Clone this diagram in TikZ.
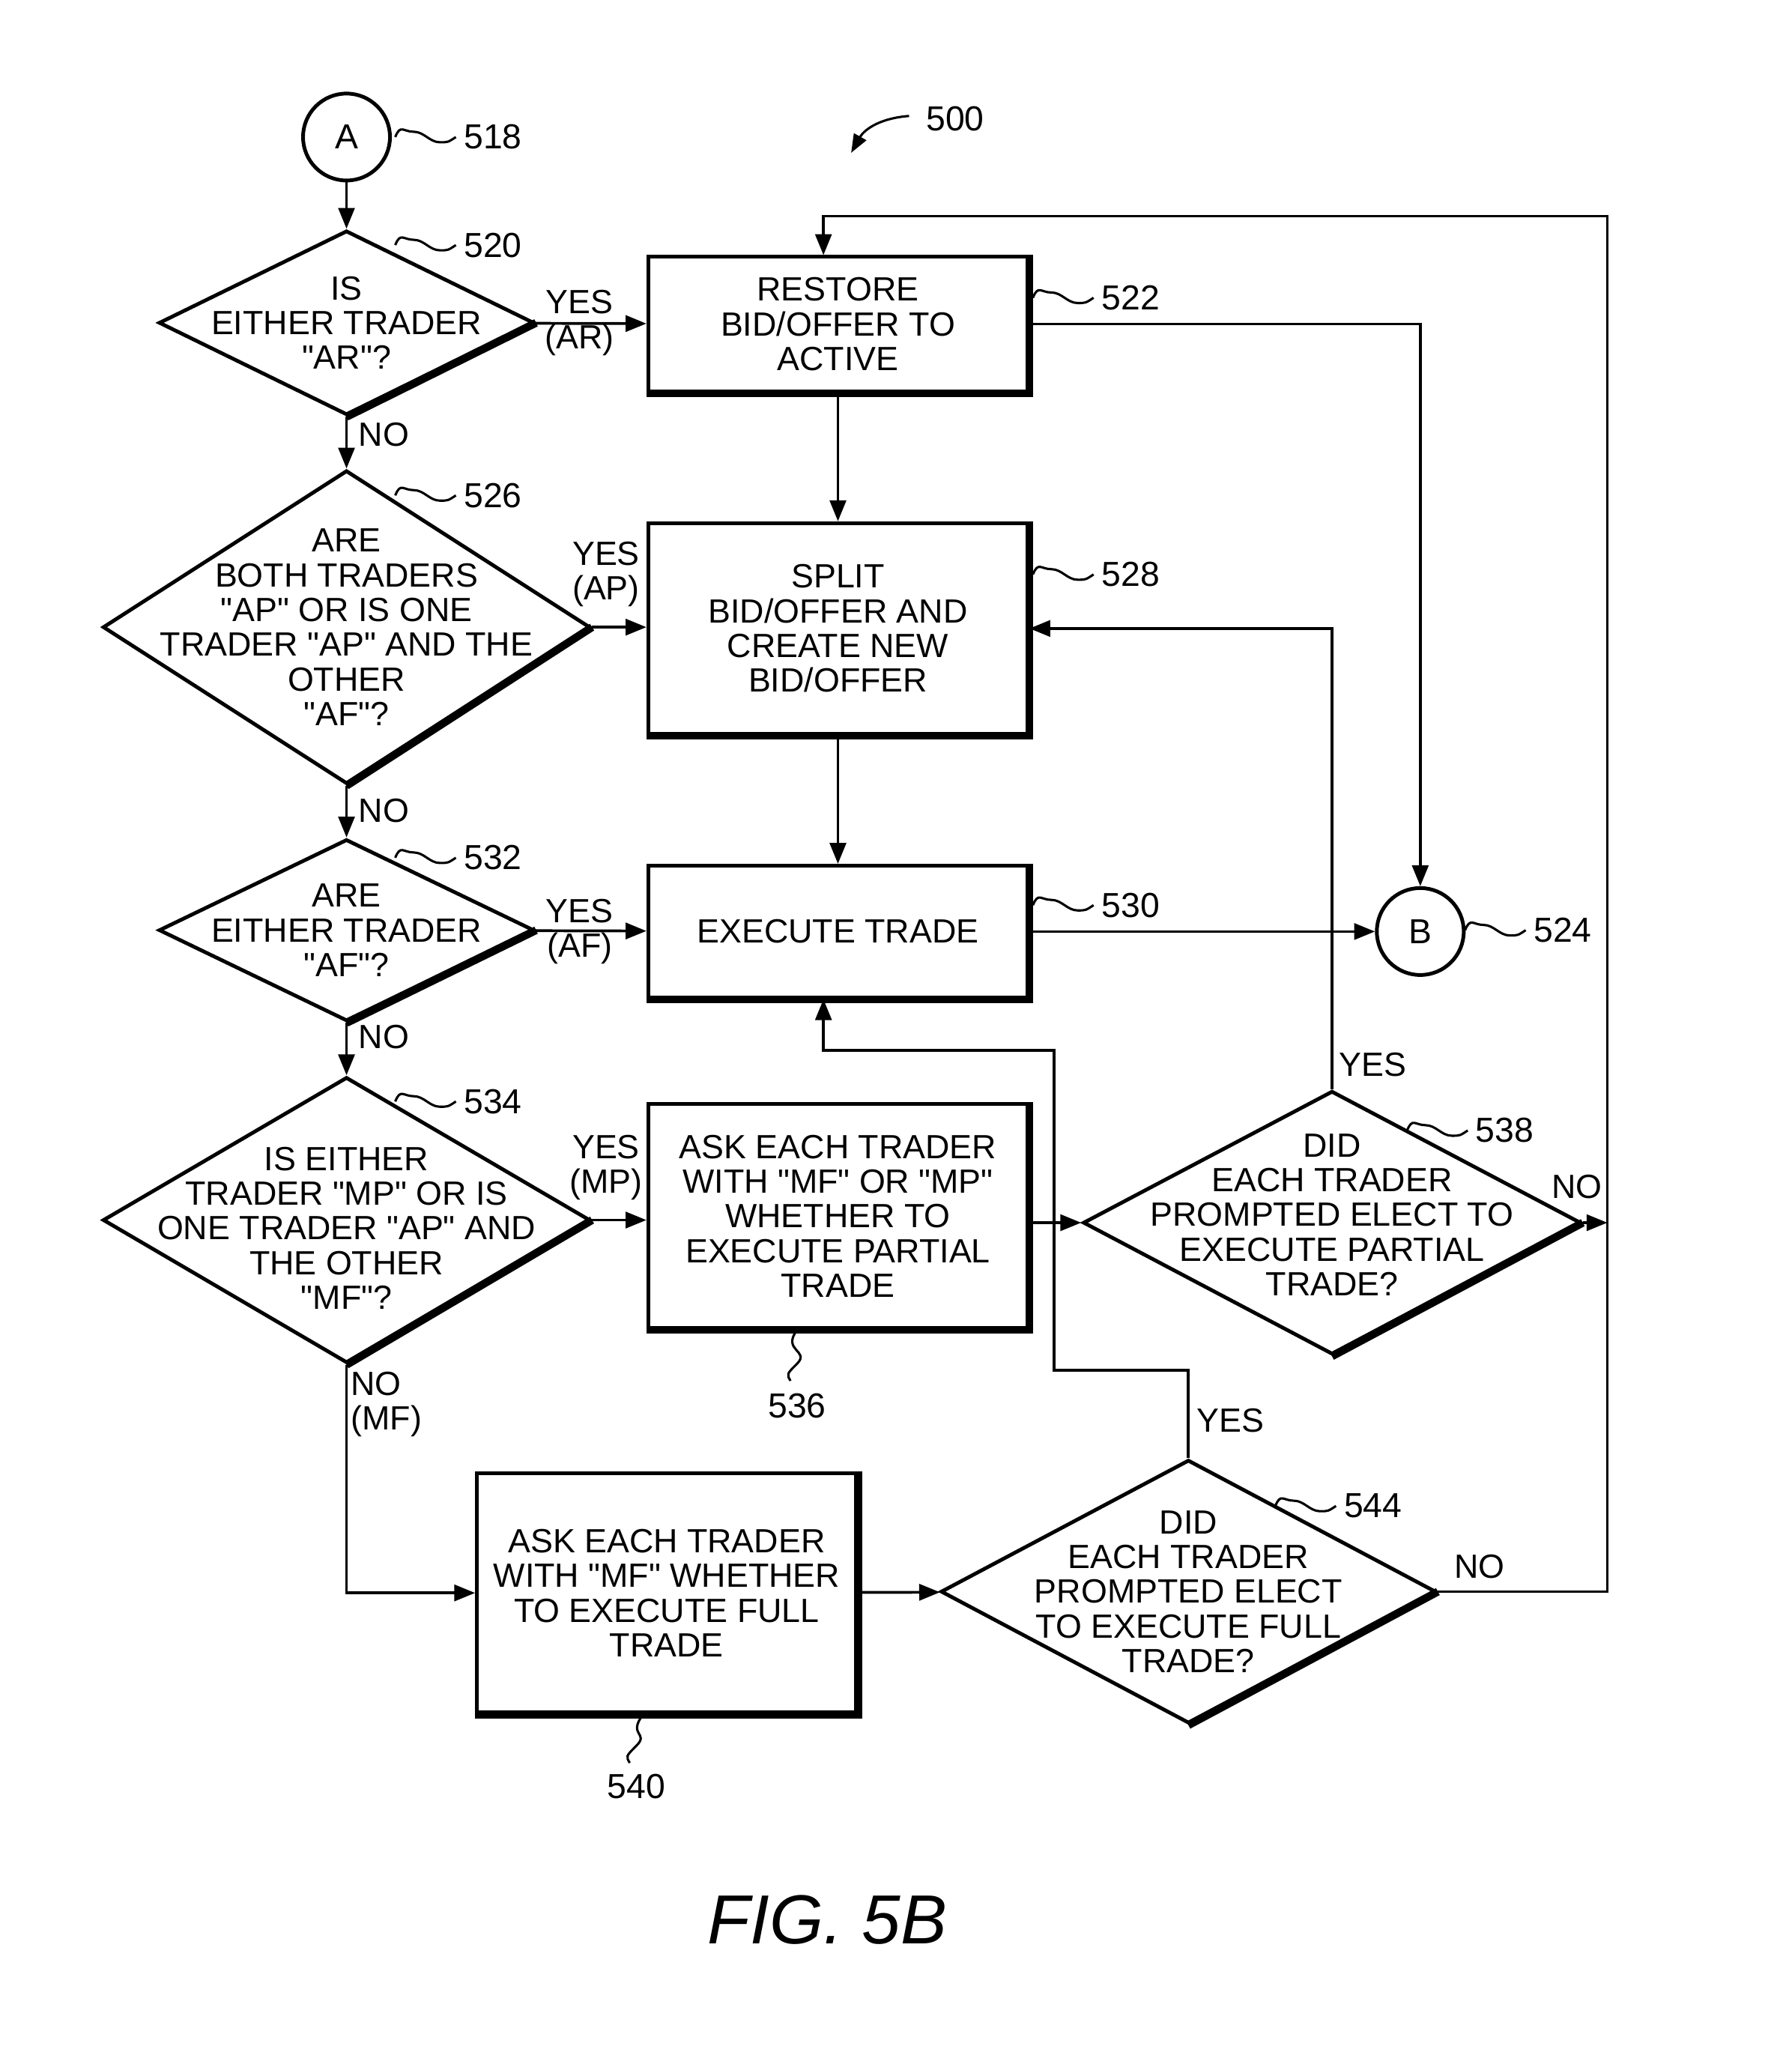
\documentclass[tikz,border=0pt]{standalone}
\usepackage{fontspec}
\setmainfont{Liberation Sans}
\usetikzlibrary{arrows.meta,shapes.geometric,positioning}

\tikzset{
  box/.style={draw,line width=1.6pt,rectangle,inner sep=0pt},
  dia/.style={draw,line width=1.6pt,diamond,inner sep=0pt},
  txt/.style={align=center,font=\fontsize{14.5}{15}\selectfont,inner sep=0pt},
  con/.style={circle,draw,line width=1.6pt,minimum size=1.32cm,font=\fontsize{15}{15}\selectfont},
  flow/.style={line width=1.2pt,-{Triangle[length=9pt,width=7pt]}},
  lbl/.style={font=\fontsize{14.5}{15}\selectfont,inner sep=0pt,align=center},
  ref/.style={font=\fontsize{15}{15}\selectfont,inner sep=0pt,anchor=west},
  shade/.style={line width=3.4pt},
}
\newcommand{\dq}{\textquotedbl}
\newcommand{\squig}[2]{\draw[line width=1pt] (#1) .. controls +(4,-10) and +(-8,0) .. ++(14,-4) .. controls +(8,0) and +(-8,0) .. ++(20,8) .. controls +(6,0) .. ++(12,-4) node[ref,right=3pt] {#2};}

\begin{document}
\begin{tikzpicture}[x=0.02cm,y=-0.02cm]
\useasboundingbox (0,0) rectangle (1360,1562);

% connectors A and B
\node[con] (A) at (263,104) {A};
\node[con] (B) at (1078,707) {B};

% decisions
\node[dia,minimum width=5.7cm,minimum height=2.8cm] (d520) at (263,245) {};
\node[dia,minimum width=7.4cm,minimum height=4.76cm] (d526) at (263,476) {};
\node[dia,minimum width=5.7cm,minimum height=2.76cm] (d532) at (263,706) {};
\node[dia,minimum width=7.4cm,minimum height=4.34cm] (d534) at (263,926) {};
\node[dia,minimum width=7.56cm,minimum height=4cm] (d538) at (1011,928) {};
\node[dia,minimum width=7.52cm,minimum height=4cm] (d544) at (902,1208) {};

% process boxes
\node[box,minimum width=5.76cm,minimum height=2.04cm] (b522) at (636,246) {};
\node[box,minimum width=5.76cm,minimum height=3.2cm] (b528) at (636,477) {};
\node[box,minimum width=5.76cm,minimum height=2cm] (b530) at (636,707) {};
\node[box,minimum width=5.76cm,minimum height=3.4cm] (b536) at (636,923) {};
\node[box,minimum width=5.76cm,minimum height=3.64cm] (b540) at (506,1209) {};

% drop shading
\foreach \n in {b522,b528,b530,b536,b540}
  \draw[shade] (\n.north east) -- (\n.south east) -- (\n.south west);
\foreach \n in {d520,d526,d532,d534,d538,d544}
  \draw[shade] (\n.east) -- (\n.south);

% texts
\node[txt] at (d520) {IS\\EITHER TRADER\\\dq AR\dq?};
\node[txt] at (d526) {ARE\\BOTH TRADERS\\\dq AP\dq\ OR IS ONE\\TRADER \dq AP\dq\ AND THE\\OTHER\\\dq AF\dq?};
\node[txt] at (d532) {ARE\\EITHER TRADER\\\dq AF\dq?};
\node[txt] at (263,932) {IS EITHER\\TRADER \dq MP\dq\ OR IS\\ONE TRADER \dq AP\dq\ AND\\THE OTHER\\\dq MF\dq?};
\node[txt] at (1011,922) {DID\\EACH TRADER\\PROMPTED ELECT TO\\EXECUTE PARTIAL\\TRADE?};
\node[txt] at (902,1208) {DID\\EACH TRADER\\PROMPTED ELECT\\TO EXECUTE FULL\\TRADE?};
\node[txt] at (b522) {RESTORE\\BID/OFFER TO\\ACTIVE};
\node[txt] at (b528) {SPLIT\\BID/OFFER AND\\CREATE NEW\\BID/OFFER};
\node[txt] at (b530) {EXECUTE TRADE};
\node[txt] at (b536) {ASK EACH TRADER\\WITH \dq MF\dq\ OR \dq MP\dq\\WHETHER TO\\EXECUTE PARTIAL\\TRADE};
\node[txt] at (b540) {ASK EACH TRADER\\WITH \dq MF\dq\ WHETHER\\TO EXECUTE FULL\\TRADE};

% flow
\draw[flow] (A) -- (d520);
\draw[flow] (d520) -- (d526);
\draw[flow] (d526) -- (d532);
\draw[flow] (d532) -- (d534);
\draw[flow] (d520) -- (b522);
\draw[flow] (d526.east) -- (d526.east -| b528.west);
\draw[flow] (d532) -- (b530);
\draw[flow] (d534.east) -- (d534.east -| b536.west);
\draw[flow] (b522) -- (b528);
\draw[flow] (b528) -- (b530);
\draw[flow] (b522.east) -| (B);
\draw[flow] (b530) -- (B);
\draw[flow] (b536.east |- d538.west) -- (d538.west);
\draw[flow] (d538.north) -- (d538.north |- b528.east) -- (b528.east);
\coordinate (nr) at (1220,928);
\coordinate (tr) at (1220,164);
\draw[flow] (d538.east) -- (nr);
\draw[flow] (d534.south) -- (d534.south |- b540.west) -- (b540.west);
\draw[flow] (b540) -- (d544);
\draw[flow] (d544.north) -- (902,1040) -- (800,1040) -- (800,797) -- (625,797) -- (b530.south -| 625,0);
\draw[flow] (d544.east) -- (d544.east -| tr) -- (tr) -- (625,164) -- (b522.north -| 625,0);

% branch labels
\node[lbl] at (440,245) {YES\\(AR)};
\node[lbl] at (460,436) {YES\\(AP)};
\node[lbl] at (440,707) {YES\\(AF)};
\node[lbl] at (460,886) {YES\\(MP)};
\node[lbl,anchor=west] at (272,330) {NO};
\node[lbl,anchor=west] at (272,615) {NO};
\node[lbl,anchor=west] at (272,787) {NO};
\node[lbl,anchor=west,align=left] at (266,1066) {NO\\(MF)};
\node[lbl,anchor=west] at (1016,808) {YES};
\node[lbl,anchor=west] at (908,1078) {YES};
\node[lbl] at (1197,901) {NO};
\node[lbl] at (1123,1189) {NO};

% reference numerals
\squig{300,104}{518}
\squig{300,186}{520}
\squig{784,226}{522}
\squig{300,376}{526}
\squig{784,436}{528}
\squig{300,651}{532}
\squig{784,687}{530}
\squig{1112,706}{524}
\squig{300,836}{534}
\squig{1068,858}{538}
\squig{968,1143}{544}
\draw[line width=1pt] (b536.south -| 605,0) .. controls +(-12,16) and +(10,-10) .. (605,1035) .. controls +(-8,8) .. (600,1048);
\node[ref,anchor=center] at (605,1067) {536};
\draw[line width=1pt] (b540.south -| 488,0) .. controls +(-12,16) and +(10,-10) .. (483,1325) .. controls +(-8,8) .. (478,1338);
\node[ref,anchor=center] at (483,1356) {540};
\node[ref,anchor=center] (n500) at (725,90) {500};
\draw[line width=1pt,-{Triangle[length=8pt,width=6pt]}] (690,88) .. controls (665,90) and (655,100) .. (646,116);

\node[font=\fontsize{30}{30}\selectfont\itshape] (fig) at (628,1457) {FIG. 5B};
\end{tikzpicture}
\end{document}
